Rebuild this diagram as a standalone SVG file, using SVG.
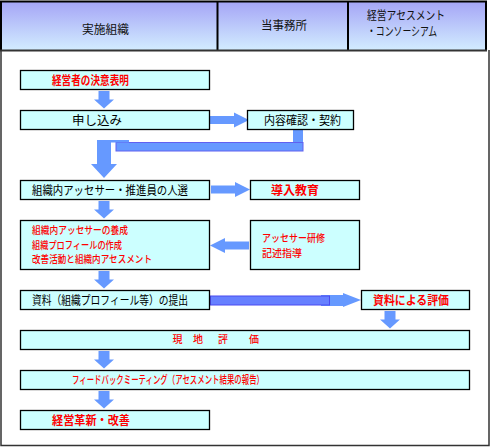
<svg xmlns="http://www.w3.org/2000/svg" width="490" height="447" viewBox="0 0 490 447">
<defs>
<linearGradient id="hdr" x1="0" y1="0" x2="0" y2="1">
<stop offset="0" stop-color="#a4a4f6"/>
<stop offset="1" stop-color="#d2ecff"/>
</linearGradient>
<path id="adown" d="M-5.5,0 h11 v8.5 h4.5 l-10,9 l-10,-9 h4.5 z"/>
<path id="aright" d="M0,-4 h24 v-3.5 l15,7.5 l-15,7.5 v-3.5 h-24 z"/>
</defs>
<style>
.box{fill:#ccffff;stroke:#000;stroke-width:1.3}
.arr{fill:#6699ff}
.t{font-family:"Noto Sans CJK JP","Liberation Sans",sans-serif;font-size:12px;fill:#000}
.r{fill:#ff0000}
.b{font-weight:bold}
.s{font-size:11px}
.m{font-size:10px;font-weight:500}
.h{font-family:"Noto Sans CJK JP","Liberation Sans",sans-serif;font-size:12px;fill:#111}
</style>
<rect x="0" y="0" width="490" height="447" fill="#fff"/>
<g id="header">
<rect x="1" y="1" width="486" height="49" fill="url(#hdr)"/>
<g stroke="#000" stroke-width="2" fill="none">
<line x1="0" y1="1.5" x2="487" y2="1.5"/>
<line x1="1" y1="1" x2="1" y2="51"/>
<line x1="217.5" y1="1" x2="217.5" y2="51"/>
<line x1="348" y1="1" x2="348" y2="51"/>
<line x1="486" y1="1" x2="486" y2="51"/>
</g>
<line x1="0" y1="50.5" x2="487" y2="50.5" stroke="#333" stroke-width="2"/>
<text class="h" x="82" y="33.5" textLength="47" lengthAdjust="spacingAndGlyphs">実施組織</text>
<text class="h" x="261" y="29.5" textLength="46" lengthAdjust="spacingAndGlyphs">当事務所</text>
<text class="h" x="367" y="20" textLength="78" lengthAdjust="spacingAndGlyphs">経営アセスメント</text>
<text class="h" x="367" y="36" textLength="70" lengthAdjust="spacingAndGlyphs">・コンソーシアム</text>
</g>
<g id="frame" fill="none" stroke="#333" stroke-width="1.5">
<path d="M1,50 V445.5 H489 V50"/>
</g>
<g id="connectors" class="arr">
<use href="#adown" x="104" y="91"/>
<use href="#aright" x="210" y="120"/>
<rect x="293" y="129" width="10" height="20"/>
<rect x="116" y="142.5" width="187" height="8.5" stroke="#6060f0" stroke-width="1"/>
<path d="M97,140 H129 V142.5 H111 V164 H117 L104,178 L91,164 H97 Z"/>
<use href="#aright" x="211" y="189.5"/>
<use href="#adown" x="104" y="201"/>
<use href="#aright" transform="translate(249,245.5) scale(-1,1)"/>
<use href="#adown" x="104" y="271"/>
<path d="M321,295 H343 V293 L361,300 L343,307 V306 H321 Z"/>
<rect x="210.5" y="296" width="119" height="9" fill="#6680ff" stroke="#4a4af0" stroke-width="1"/>
<use href="#adown" x="390" y="311"/>
<use href="#adown" x="104" y="351"/>
<use href="#adown" x="104" y="391"/>
</g>
<g id="n-kettei"><rect class="box" x="20.5" y="70.5" width="189" height="19"/>
<text class="t r b" x="52" y="84.5" textLength="77" lengthAdjust="spacingAndGlyphs">経営者の決意表明</text></g>
<g id="n-moushikomi"><rect class="box" x="20.5" y="110.5" width="189" height="19"/>
<text class="t" x="72" y="124.5" textLength="50" lengthAdjust="spacingAndGlyphs">申し込み</text></g>
<g id="n-keiyaku"><rect class="box" x="247.5" y="110.5" width="106" height="19"/>
<text class="t" x="264" y="124.5" textLength="77" lengthAdjust="spacingAndGlyphs">内容確認・契約</text></g>
<g id="n-jinsen"><rect class="box" x="20.5" y="180.5" width="189" height="19"/>
<text class="t" x="32" y="194.5" textLength="156" lengthAdjust="spacingAndGlyphs">組織内アッセサー・推進員の人選</text></g>
<g id="n-dounyu"><rect class="box" x="250.5" y="180.5" width="109" height="19"/>
<text class="t r b" x="271" y="194.5" textLength="48" lengthAdjust="spacingAndGlyphs">導入教育</text></g>
<g id="n-yousei"><rect class="box" x="20.5" y="220.5" width="189" height="49"/>
<text class="t r m" x="32" y="234" textLength="96" lengthAdjust="spacingAndGlyphs">組織内アッセサーの養成</text>
<text class="t r m" x="32" y="248.5" textLength="90" lengthAdjust="spacingAndGlyphs">組織プロフィールの作成</text>
<text class="t r m" x="32" y="263" textLength="120" lengthAdjust="spacingAndGlyphs">改善活動と組織内アセスメント</text></g>
<g id="n-kenshu"><rect class="box" x="250.5" y="220.5" width="109" height="49"/>
<text class="t r m" x="262" y="242" textLength="63" lengthAdjust="spacingAndGlyphs">アッセサー研修</text>
<text class="t r m" x="262" y="256.5" textLength="40" lengthAdjust="spacingAndGlyphs">記述指導</text></g>
<g id="n-teishutsu"><rect class="box" x="20.5" y="290.5" width="189" height="19"/>
<text class="t" x="32" y="304.5" textLength="156" lengthAdjust="spacingAndGlyphs">資料（組織プロフィール等）の提出</text></g>
<g id="n-shiryohyoka"><rect class="box" x="361.5" y="290.5" width="108" height="19"/>
<text class="t r b" x="373" y="304.5" textLength="76" lengthAdjust="spacingAndGlyphs">資料による評価</text></g>
<g id="n-genchi"><rect class="box" x="20.5" y="330.5" width="449" height="19"/>
<text class="t r" style="font-size:10px;font-weight:500" x="172.5 193 218 249" y="343">現地評価</text></g>
<g id="n-feedback"><rect class="box" x="20.5" y="370.5" width="449" height="19"/>
<text class="t r s" style="font-weight:500" x="72" y="383.5" textLength="192" lengthAdjust="spacingAndGlyphs">フィードバックミーティング（アセスメント結果の報告）</text></g>
<g id="n-kakushin"><rect class="box" x="20.5" y="410.5" width="189" height="19"/>
<text class="t r b" x="52" y="424.5" textLength="78" lengthAdjust="spacingAndGlyphs">経営革新・改善</text></g>
</svg>
